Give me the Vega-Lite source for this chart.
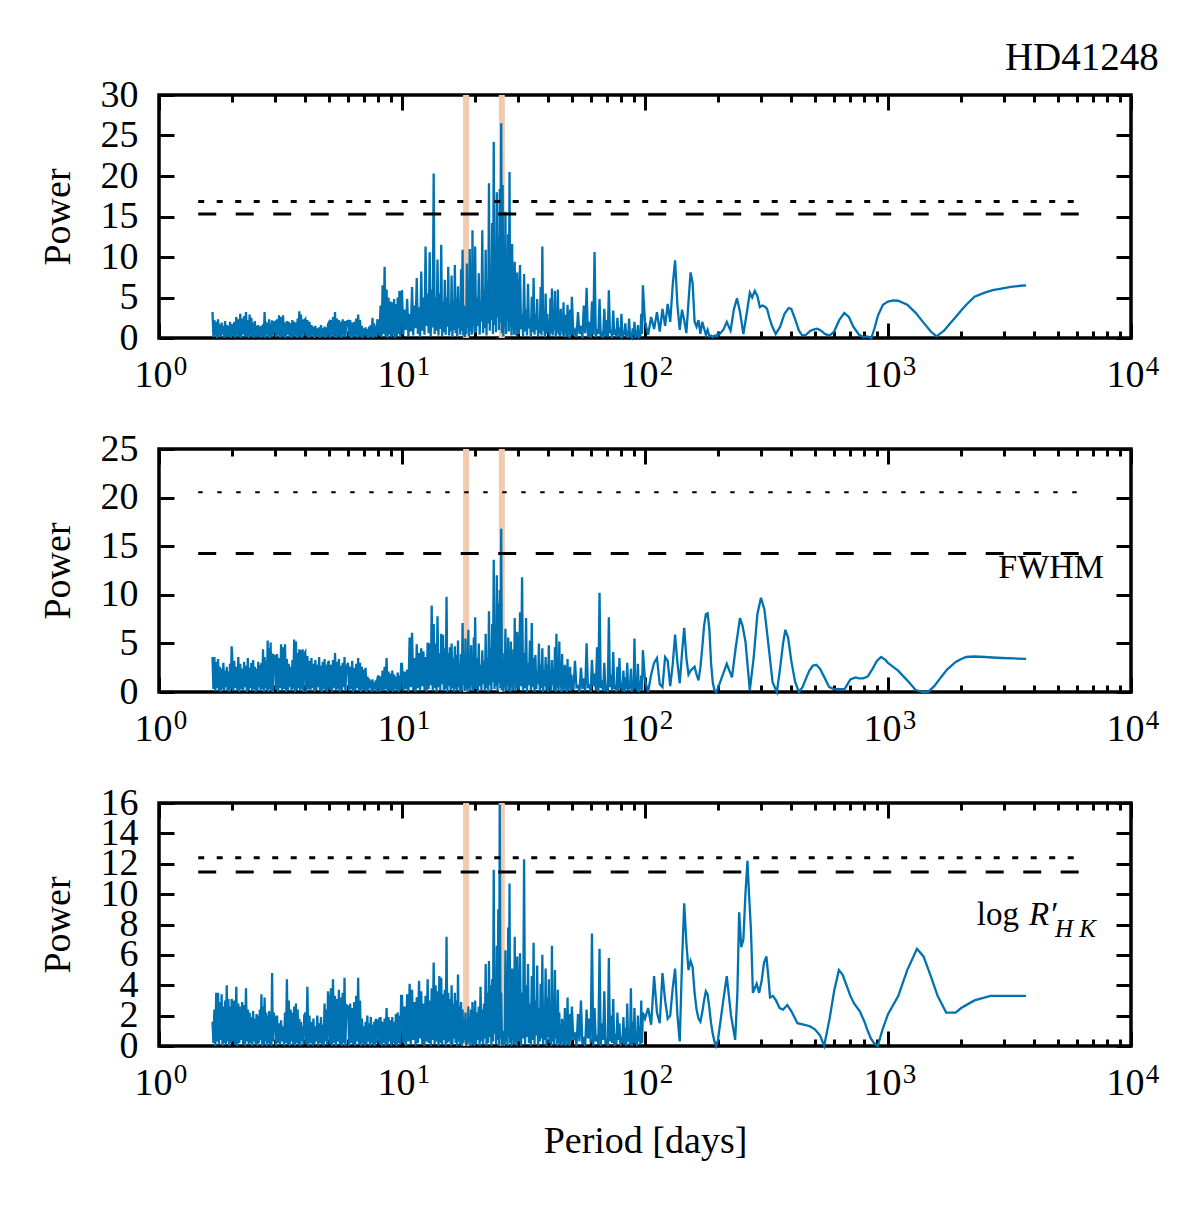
{
"$schema":"https://vega.github.io/schema/vega-lite/v6.json",
"padding":{"left":37,"top":37,"right":5,"bottom":5},
"background":"white",
"config":{
"view":{"stroke":"black","strokeWidth":3.5},
"axis":{"domain":false,"grid":false,"tickColor":"black","tickWidth":3,"labelFont":"Liberation Serif","labelFontSize":38,"labelColor":"black","titleFont":"Liberation Serif","titleFontSize":38,"titleFontWeight":"normal","titleColor":"black","labelFlush":false,"labelOverlap":false,"labelBound":false},
"title":{"font":"Liberation Serif","fontSize":39,"fontWeight":"normal","color":"black"},
"text":{"font":"Liberation Serif","color":"black"}
},
"datasets":{
"bands":[{"p":18.35},{"p":25.75}],
"thr":[{"panel":1,"x1":1.45,"x2":6400,"dot":16.85,"dash":15.3},{"panel":2,"x1":1.45,"x2":6400,"dot":20.55,"dash":14.25},{"panel":3,"x1":1.45,"x2":6400,"dot":12.4,"dash":11.45}],
"lab2":[{"p":7745,"v":11.73,"t":"FWHM"}],
"lab3":[{"p":3460,"v":7.97}],
"pg":[
{"p":1.66,"a":3.2,"b":3.6,"c":1.6},{"p":1.69,"a":2.2,"b":3.6,"c":2.4},{"p":1.72,"a":2.0,"b":3.1,"c":3.5},{"p":1.75,"a":2.3,"b":3.4,"c":3.5},{"p":1.78,"a":1.7,"b":2.6,"c":2.9},{"p":1.81,"a":1.9,"b":2.4,"c":3.4},{"p":1.84,"a":1.5,"b":3.0,"c":2.6},{"p":1.87,"a":2.1,"b":2.2,"c":3.0},{"p":1.90,"a":1.6,"b":2.6,"c":4.0},{"p":1.93,"a":1.5,"b":2.1,"c":3.1},{"p":1.96,"a":2.0,"b":2.9,"c":2.6},{"p":1.99,"a":1.6,"b":4.7,"c":3.1},
{"p":1.675,"a":0.1,"b":0.3,"c":0.2},{"p":1.705,"a":0.3,"b":0.1,"c":0.0},{"p":1.735,"a":0.0,"b":0.4,"c":0.3},{"p":1.765,"a":0.2,"b":0.2,"c":0.1},{"p":1.795,"a":0.1,"b":0.0,"c":0.4},{"p":1.825,"a":0.4,"b":0.3,"c":0.0},{"p":1.855,"a":0.0,"b":0.1,"c":0.2},{"p":1.885,"a":0.2,"b":0.5,"c":0.1},{"p":1.915,"a":0.1,"b":0.2,"c":0.3},{"p":1.945,"a":0.3,"b":0.0,"c":0.0},{"p":1.975,"a":0.0,"b":0.3,"c":0.2},
{"p":2.00,"a":1.6,"b":3.8,"c":2.8},{"p":2.04,"a":2.0,"b":3.2,"c":3.0},{"p":2.08,"a":2.6,"b":2.6,"c":3.9},{"p":2.12,"a":2.3,"b":3.6,"c":2.8},{"p":2.16,"a":3.0,"b":2.9,"c":2.6},{"p":2.20,"a":2.4,"b":2.4,"c":2.9},{"p":2.24,"a":2.7,"b":3.1,"c":2.7},{"p":2.28,"a":3.2,"b":2.7,"c":3.8},{"p":2.32,"a":2.2,"b":3.5,"c":2.4},{"p":2.36,"a":2.9,"b":2.5,"c":2.2},{"p":2.40,"a":2.5,"b":3.0,"c":1.9},{"p":2.44,"a":1.9,"b":3.3,"c":2.3},{"p":2.48,"a":2.1,"b":2.6,"c":1.8},{"p":2.52,"a":1.5,"b":2.4,"c":2.1},{"p":2.56,"a":1.6,"b":3.1,"c":2.0},{"p":2.60,"a":1.4,"b":2.8,"c":2.4},{"p":2.64,"a":1.5,"b":3.0,"c":3.4},{"p":2.68,"a":1.7,"b":4.4,"c":2.6},{"p":2.72,"a":3.2,"b":3.6,"c":3.2},{"p":2.76,"a":2.0,"b":3.2,"c":2.2},{"p":2.80,"a":1.8,"b":5.3,"c":2.0},{"p":2.84,"a":2.3,"b":4.5,"c":2.3},{"p":2.88,"a":1.7,"b":5.1,"c":2.1},{"p":2.92,"a":2.2,"b":3.9,"c":4.8},{"p":2.96,"a":1.9,"b":3.8,"c":2.2},
{"p":2.02,"a":0.2,"b":0.1,"c":0.3},{"p":2.06,"a":0.0,"b":0.4,"c":0.1},{"p":2.10,"a":0.3,"b":0.2,"c":0.0},{"p":2.14,"a":0.1,"b":0.0,"c":0.2},{"p":2.18,"a":0.0,"b":0.3,"c":0.4},{"p":2.22,"a":0.4,"b":0.1,"c":0.1},{"p":2.26,"a":0.1,"b":0.5,"c":0.0},{"p":2.30,"a":0.2,"b":0.0,"c":0.3},{"p":2.34,"a":0.0,"b":0.2,"c":0.1},{"p":2.38,"a":0.3,"b":0.4,"c":0.2},{"p":2.42,"a":0.1,"b":0.1,"c":0.0},{"p":2.46,"a":0.0,"b":0.3,"c":0.3},{"p":2.50,"a":0.2,"b":0.0,"c":0.1},{"p":2.54,"a":0.1,"b":0.2,"c":0.0},{"p":2.58,"a":0.3,"b":0.5,"c":0.2},{"p":2.62,"a":0.0,"b":0.1,"c":0.4},{"p":2.66,"a":0.2,"b":0.3,"c":0.0},{"p":2.70,"a":0.1,"b":0.0,"c":0.1},{"p":2.74,"a":0.0,"b":0.4,"c":0.3},{"p":2.78,"a":0.4,"b":0.2,"c":0.0},{"p":2.82,"a":0.1,"b":0.0,"c":0.2},{"p":2.86,"a":0.0,"b":0.3,"c":0.1},{"p":2.90,"a":0.2,"b":0.1,"c":0.0},{"p":2.94,"a":0.3,"b":0.0,"c":0.3},
{"p":3.00,"a":2.0,"b":3.7,"c":1.8},{"p":3.06,"a":2.3,"b":3.9,"c":2.0},{"p":3.12,"a":2.8,"b":3.5,"c":1.5},{"p":3.18,"a":2.6,"b":4.9,"c":1.7},{"p":3.24,"a":2.8,"b":4.6,"c":1.3},{"p":3.30,"a":1.9,"b":4.9,"c":2.2},{"p":3.36,"a":2.1,"b":3.4,"c":4.4},{"p":3.42,"a":2.0,"b":2.9,"c":3.0},{"p":3.48,"a":1.8,"b":2.6,"c":2.4},{"p":3.54,"a":2.2,"b":3.3,"c":2.2},{"p":3.60,"a":2.0,"b":5.4,"c":2.6},{"p":3.66,"a":1.9,"b":5.2,"c":2.8},{"p":3.72,"a":2.4,"b":4.0,"c":2.4},{"p":3.78,"a":3.3,"b":4.4,"c":1.8},{"p":3.84,"a":2.9,"b":4.3,"c":1.6},{"p":3.90,"a":2.3,"b":4.4,"c":1.3},{"p":3.96,"a":2.1,"b":3.9,"c":2.0},
{"p":3.03,"a":0.1,"b":0.2,"c":0.0},{"p":3.09,"a":0.3,"b":0.0,"c":0.2},{"p":3.15,"a":0.0,"b":0.4,"c":0.1},{"p":3.21,"a":0.2,"b":0.1,"c":0.3},{"p":3.27,"a":0.1,"b":0.3,"c":0.0},{"p":3.33,"a":0.0,"b":0.0,"c":0.2},{"p":3.39,"a":0.4,"b":0.2,"c":0.1},{"p":3.45,"a":0.1,"b":0.5,"c":0.0},{"p":3.51,"a":0.0,"b":0.1,"c":0.3},{"p":3.57,"a":0.2,"b":0.3,"c":0.1},{"p":3.63,"a":0.3,"b":0.0,"c":0.0},{"p":3.69,"a":0.0,"b":0.2,"c":0.2},{"p":3.75,"a":0.1,"b":0.4,"c":0.1},{"p":3.81,"a":0.2,"b":0.1,"c":0.0},{"p":3.87,"a":0.0,"b":0.3,"c":0.3},{"p":3.93,"a":0.3,"b":0.0,"c":0.1},
{"p":4.00,"a":2.3,"b":4.1,"c":2.2},{"p":4.08,"a":2.2,"b":3.7,"c":3.9},{"p":4.16,"a":2.0,"b":3.2,"c":2.0},{"p":4.24,"a":1.6,"b":3.5,"c":1.6},{"p":4.32,"a":1.4,"b":2.9,"c":1.8},{"p":4.40,"a":1.5,"b":3.3,"c":1.3},{"p":4.48,"a":1.2,"b":2.8,"c":2.0},{"p":4.56,"a":1.3,"b":3.6,"c":1.5},{"p":4.64,"a":1.6,"b":2.7,"c":1.9},{"p":4.72,"a":1.2,"b":3.1,"c":1.4},{"p":4.80,"a":1.4,"b":3.4,"c":2.8},{"p":4.88,"a":1.3,"b":2.8,"c":2.4},{"p":4.96,"a":1.7,"b":3.0,"c":3.6},
{"p":4.04,"a":0.2,"b":0.0,"c":0.1},{"p":4.12,"a":0.0,"b":0.3,"c":0.0},{"p":4.20,"a":0.1,"b":0.1,"c":0.2},{"p":4.28,"a":0.3,"b":0.4,"c":0.0},{"p":4.36,"a":0.0,"b":0.0,"c":0.1},{"p":4.44,"a":0.2,"b":0.2,"c":0.3},{"p":4.52,"a":0.1,"b":0.5,"c":0.0},{"p":4.60,"a":0.0,"b":0.1,"c":0.2},{"p":4.68,"a":0.3,"b":0.0,"c":0.1},{"p":4.76,"a":0.1,"b":0.3,"c":0.0},{"p":4.84,"a":0.0,"b":0.2,"c":0.3},{"p":4.92,"a":0.2,"b":0.0,"c":0.1},
{"p":5.0,"a":1.9,"b":3.2,"c":3.0},{"p":5.1,"a":2.2,"b":2.8,"c":3.8},{"p":5.2,"a":2.6,"b":3.3,"c":4.4},{"p":5.3,"a":3.2,"b":4.0,"c":3.3},{"p":5.4,"a":2.4,"b":3.1,"c":3.1},{"p":5.5,"a":2.2,"b":3.4,"c":3.7},{"p":5.6,"a":2.0,"b":2.7,"c":3.2},{"p":5.7,"a":2.3,"b":3.0,"c":3.5},{"p":5.8,"a":2.1,"b":3.6,"c":4.5},{"p":5.9,"a":2.0,"b":2.5,"c":2.7},
{"p":5.05,"a":0.0,"b":0.2,"c":0.1},{"p":5.15,"a":0.3,"b":0.0,"c":0.0},{"p":5.25,"a":0.1,"b":0.4,"c":0.2},{"p":5.35,"a":0.0,"b":0.1,"c":0.0},{"p":5.45,"a":0.2,"b":0.3,"c":0.3},{"p":5.55,"a":0.1,"b":0.0,"c":0.1},{"p":5.65,"a":0.0,"b":0.2,"c":0.0},{"p":5.75,"a":0.3,"b":0.5,"c":0.2},{"p":5.85,"a":0.1,"b":0.1,"c":0.0},
{"p":6.00,"a":2.1,"b":3.0,"c":2.6},{"p":6.12,"a":2.2,"b":2.6,"c":2.8},{"p":6.24,"a":1.9,"b":3.2,"c":2.5},{"p":6.36,"a":2.0,"b":2.5,"c":2.9},{"p":6.48,"a":2.4,"b":2.9,"c":3.3},{"p":6.60,"a":2.9,"b":3.5,"c":4.5},{"p":6.72,"a":2.2,"b":3.0,"c":3.0},{"p":6.84,"a":1.5,"b":2.6,"c":1.8},{"p":6.96,"a":1.2,"b":2.3,"c":1.3},{"p":7.08,"a":1.3,"b":2.5,"c":1.6},{"p":7.20,"a":1.1,"b":1.6,"c":2.0},{"p":7.32,"a":1.4,"b":1.4,"c":1.5},{"p":7.44,"a":1.6,"b":1.2,"c":1.9},{"p":7.56,"a":2.5,"b":1.3,"c":1.4},{"p":7.68,"a":1.8,"b":1.0,"c":1.6},{"p":7.80,"a":1.5,"b":1.2,"c":1.8},{"p":7.92,"a":2.3,"b":1.4,"c":1.6},
{"p":6.06,"a":0.2,"b":0.1,"c":0.0},{"p":6.18,"a":0.0,"b":0.3,"c":0.2},{"p":6.30,"a":0.1,"b":0.0,"c":0.1},{"p":6.42,"a":0.3,"b":0.2,"c":0.0},{"p":6.54,"a":0.0,"b":0.4,"c":0.3},{"p":6.66,"a":0.2,"b":0.1,"c":0.1},{"p":6.78,"a":0.1,"b":0.0,"c":0.0},{"p":6.90,"a":0.0,"b":0.3,"c":0.2},{"p":7.02,"a":0.3,"b":0.1,"c":0.0},{"p":7.14,"a":0.1,"b":0.0,"c":0.1},{"p":7.26,"a":0.0,"b":0.2,"c":0.3},{"p":7.38,"a":0.2,"b":0.4,"c":0.0},{"p":7.50,"a":0.1,"b":0.0,"c":0.2},{"p":7.62,"a":0.0,"b":0.1,"c":0.1},{"p":7.74,"a":0.3,"b":0.3,"c":0.0},{"p":7.86,"a":0.1,"b":0.0,"c":0.2},
{"p":8.00,"a":2.0,"b":1.7,"c":1.7},{"p":8.16,"a":4.0,"b":1.6,"c":1.9},{"p":8.32,"a":6.5,"b":2.2,"c":1.6},{"p":8.48,"a":8.8,"b":2.6,"c":1.8},{"p":8.64,"a":6.0,"b":3.5,"c":2.5},{"p":8.80,"a":5.0,"b":2.1,"c":1.9},{"p":8.96,"a":4.5,"b":1.9,"c":1.7},{"p":9.12,"a":4.4,"b":2.2,"c":1.9},{"p":9.28,"a":4.8,"b":1.8,"c":1.6},{"p":9.44,"a":4.2,"b":1.6,"c":2.1},{"p":9.60,"a":5.0,"b":2.0,"c":2.2},{"p":9.76,"a":5.8,"b":1.7,"c":2.0},{"p":9.92,"a":4.5,"b":2.9,"c":3.3},
{"p":8.08,"a":0.3,"b":0.0,"c":0.1},{"p":8.24,"a":0.1,"b":0.2,"c":0.0},{"p":8.40,"a":0.5,"b":0.1,"c":0.2},{"p":8.56,"a":0.2,"b":0.3,"c":0.0},{"p":8.72,"a":0.0,"b":0.0,"c":0.1},{"p":8.88,"a":0.4,"b":0.2,"c":0.3},{"p":9.04,"a":0.1,"b":0.1,"c":0.0},{"p":9.20,"a":0.3,"b":0.0,"c":0.2},{"p":9.36,"a":0.0,"b":0.3,"c":0.1},{"p":9.52,"a":0.2,"b":0.1,"c":0.0},{"p":9.68,"a":0.5,"b":0.0,"c":0.2},{"p":9.84,"a":0.1,"b":0.2,"c":0.1},
{"p":10.00,"a":5.9,"b":2.9,"c":3.3},{"p":10.25,"a":3.5,"b":2.1,"c":2.6},{"p":10.50,"a":4.8,"b":2.3,"c":3.4},{"p":10.75,"a":3.0,"b":5.6,"c":4.1},{"p":11.00,"a":6.3,"b":6.1,"c":3.7},{"p":11.25,"a":4.0,"b":3.5,"c":2.9},{"p":11.50,"a":7.4,"b":4.9,"c":3.2},{"p":11.75,"a":3.8,"b":4.0,"c":4.3},{"p":12.00,"a":8.2,"b":4.5,"c":3.6},{"p":12.25,"a":5.0,"b":4.2,"c":2.8},{"p":12.50,"a":11.3,"b":3.6,"c":3.3},{"p":12.75,"a":5.5,"b":5.1,"c":4.4},{"p":13.00,"a":10.6,"b":5.0,"c":3.0},{"p":13.25,"a":6.0,"b":8.9,"c":3.8},{"p":13.50,"a":20.3,"b":7.0,"c":5.5},{"p":13.75,"a":5.0,"b":5.0,"c":4.0},{"p":14.00,"a":9.7,"b":7.8,"c":3.6},{"p":14.25,"a":5.5,"b":4.0,"c":4.6},{"p":14.50,"a":11.5,"b":6.0,"c":4.5},{"p":14.75,"a":4.5,"b":5.9,"c":3.4},{"p":15.00,"a":7.2,"b":4.5,"c":3.7},{"p":15.25,"a":5.0,"b":9.8,"c":7.2},{"p":15.50,"a":8.8,"b":4.0,"c":3.5},{"p":15.75,"a":4.0,"b":4.6,"c":3.1},{"p":16.00,"a":7.7,"b":5.0,"c":4.0},{"p":16.25,"a":4.5,"b":3.5,"c":2.8},{"p":16.50,"a":9.0,"b":4.7,"c":3.5},{"p":16.75,"a":5.0,"b":3.8,"c":3.0},{"p":17.00,"a":6.4,"b":5.3,"c":4.7},{"p":17.25,"a":3.5,"b":3.0,"c":2.6},{"p":17.50,"a":8.5,"b":3.9,"c":2.9},{"p":17.75,"a":10.9,"b":7.1,"c":2.4},{"p":18.00,"a":4.0,"b":3.2,"c":1.8},{"p":18.25,"a":2.0,"b":5.5,"c":2.2},{"p":18.50,"a":9.2,"b":3.0,"c":1.5},{"p":18.75,"a":3.8,"b":6.4,"c":2.6},{"p":19.00,"a":11.0,"b":3.6,"c":1.9},{"p":19.25,"a":5.0,"b":4.8,"c":2.4},{"p":19.50,"a":13.3,"b":3.3,"c":2.9},{"p":19.75,"a":6.0,"b":5.6,"c":2.2},
{"p":10.125,"a":0.4,"b":0.1,"c":0.2},{"p":10.375,"a":1.0,"b":0.3,"c":0.0},{"p":10.625,"a":0.2,"b":0.0,"c":0.3},{"p":10.875,"a":0.8,"b":0.5,"c":0.1},{"p":11.125,"a":0.3,"b":0.2,"c":0.4},{"p":11.375,"a":1.2,"b":0.0,"c":0.0},{"p":11.625,"a":0.5,"b":0.4,"c":0.2},{"p":11.875,"a":0.1,"b":0.1,"c":0.5},{"p":12.125,"a":0.9,"b":0.6,"c":0.1},{"p":12.375,"a":0.4,"b":0.2,"c":0.0},{"p":12.625,"a":1.5,"b":0.0,"c":0.3},{"p":12.875,"a":0.6,"b":0.3,"c":0.2},{"p":13.125,"a":0.2,"b":0.7,"c":0.0},{"p":13.375,"a":1.3,"b":0.1,"c":0.4},{"p":13.625,"a":0.5,"b":0.4,"c":0.1},{"p":13.875,"a":0.9,"b":0.0,"c":0.3},{"p":14.125,"a":0.3,"b":0.5,"c":0.0},{"p":14.375,"a":1.1,"b":0.2,"c":0.2},{"p":14.625,"a":0.2,"b":0.8,"c":0.1},{"p":14.875,"a":0.7,"b":0.1,"c":0.4},{"p":15.125,"a":0.4,"b":0.3,"c":0.0},{"p":15.375,"a":1.4,"b":0.0,"c":0.2},{"p":15.625,"a":0.3,"b":0.6,"c":0.3},{"p":15.875,"a":0.8,"b":0.2,"c":0.0},{"p":16.125,"a":0.1,"b":0.4,"c":0.1},{"p":16.375,"a":1.0,"b":0.0,"c":0.5},{"p":16.625,"a":0.6,"b":0.3,"c":0.2},{"p":16.875,"a":0.2,"b":0.1,"c":0.0},{"p":17.125,"a":1.2,"b":0.5,"c":0.3},{"p":17.375,"a":0.4,"b":0.0,"c":0.1},{"p":17.625,"a":0.9,"b":0.2,"c":0.0},{"p":17.875,"a":0.3,"b":0.7,"c":0.2},{"p":18.125,"a":0.1,"b":0.1,"c":0.4},{"p":18.375,"a":0.5,"b":0.3,"c":0.0},{"p":18.625,"a":1.3,"b":0.0,"c":0.1},{"p":18.875,"a":0.2,"b":0.4,"c":0.3},{"p":19.125,"a":0.8,"b":0.2,"c":0.0},{"p":19.375,"a":0.4,"b":0.6,"c":0.2},{"p":19.625,"a":1.5,"b":0.1,"c":0.1},{"p":19.875,"a":0.6,"b":0.3,"c":0.0},
{"p":20.00,"a":11.3,"b":7.7,"c":3.0},{"p":20.35,"a":5.0,"b":3.5,"c":2.2},{"p":20.70,"a":8.0,"b":5.0,"c":2.6},{"p":21.05,"a":4.5,"b":2.8,"c":3.9},{"p":21.40,"a":13.3,"b":4.3,"c":2.4},{"p":21.75,"a":6.0,"b":3.2,"c":2.8},{"p":22.10,"a":10.9,"b":6.0,"c":5.4},{"p":22.45,"a":7.0,"b":3.5,"c":3.5},{"p":22.80,"a":19.1,"b":8.3,"c":5.6},{"p":23.15,"a":8.0,"b":4.5,"c":4.0},{"p":23.50,"a":14.2,"b":7.0,"c":4.4},{"p":23.85,"a":24.2,"b":13.6,"c":11.6},{"p":24.20,"a":9.5,"b":6.5,"c":4.5},{"p":24.55,"a":18.0,"b":12.0,"c":6.6},{"p":24.90,"a":12.4,"b":9.1,"c":9.0},{"p":25.25,"a":18.4,"b":10.5,"c":15.9},{"p":25.60,"a":26.5,"b":16.8,"c":3.5},{"p":25.95,"a":18.9,"b":4.0,"c":1.0},{"p":26.30,"a":3.2,"b":2.5,"c":0.5},{"p":26.65,"a":15.6,"b":6.5,"c":6.3},{"p":27.00,"a":7.3,"b":2.8,"c":3.5},{"p":27.35,"a":12.8,"b":5.6,"c":7.8},{"p":27.70,"a":20.5,"b":3.5,"c":10.7},{"p":28.05,"a":5.2,"b":5.2,"c":4.5},{"p":28.40,"a":11.6,"b":3.0,"c":5.1},{"p":28.75,"a":4.5,"b":4.4,"c":3.0},{"p":29.10,"a":9.4,"b":7.6,"c":7.2},{"p":29.45,"a":4.0,"b":3.2,"c":3.5},{"p":29.80,"a":8.1,"b":6.2,"c":5.9},
{"p":20.175,"a":0.8,"b":0.3,"c":0.1},{"p":20.525,"a":1.5,"b":0.0,"c":0.4},{"p":20.875,"a":0.4,"b":0.6,"c":0.0},{"p":21.225,"a":2.0,"b":0.2,"c":0.3},{"p":21.575,"a":0.6,"b":0.8,"c":0.1},{"p":21.925,"a":1.2,"b":0.1,"c":0.5},{"p":22.275,"a":0.3,"b":0.4,"c":0.0},{"p":22.625,"a":1.8,"b":0.0,"c":0.2},{"p":22.975,"a":0.9,"b":0.7,"c":0.6},{"p":23.325,"a":2.2,"b":0.2,"c":0.0},{"p":23.675,"a":0.5,"b":1.0,"c":0.3},{"p":24.025,"a":1.6,"b":0.3,"c":0.8},{"p":24.375,"a":0.7,"b":0.6,"c":0.1},{"p":24.725,"a":2.5,"b":0.1,"c":0.4},{"p":25.075,"a":1.0,"b":0.9,"c":0.0},{"p":25.425,"a":1.9,"b":0.4,"c":0.5},{"p":25.775,"a":0.6,"b":0.2,"c":0.0},{"p":26.125,"a":0.2,"b":0.0,"c":0.0},{"p":26.475,"a":1.4,"b":0.5,"c":0.1},{"p":26.825,"a":0.5,"b":0.1,"c":0.3},{"p":27.175,"a":2.1,"b":0.7,"c":0.0},{"p":27.525,"a":0.8,"b":0.2,"c":0.6},{"p":27.875,"a":1.5,"b":0.0,"c":0.2},{"p":28.225,"a":0.3,"b":0.5,"c":0.0},{"p":28.575,"a":1.1,"b":0.2,"c":0.4},{"p":28.925,"a":0.4,"b":0.8,"c":0.1},{"p":29.275,"a":1.3,"b":0.1,"c":0.3},{"p":29.625,"a":0.2,"b":0.4,"c":0.0},
{"p":30.0,"a":4.0,"b":3.0,"c":3.0},{"p":30.6,"a":9.0,"b":8.2,"c":6.1},{"p":31.2,"a":3.0,"b":11.8,"c":3.5},{"p":31.8,"a":7.9,"b":4.0,"c":12.3},{"p":32.4,"a":3.5,"b":7.6,"c":4.0},{"p":33.0,"a":6.7,"b":3.0,"c":5.4},{"p":33.6,"a":2.5,"b":5.3,"c":2.8},{"p":34.2,"a":5.1,"b":7.1,"c":4.6},{"p":34.8,"a":7.4,"b":3.5,"c":6.8},{"p":35.4,"a":3.0,"b":3.8,"c":3.0},{"p":36.0,"a":4.8,"b":2.2,"c":5.3},{"p":36.6,"a":2.2,"b":5.0,"c":2.5},{"p":37.2,"a":6.3,"b":2.8,"c":4.1},{"p":37.8,"a":11.3,"b":4.5,"c":6.0},{"p":38.4,"a":2.5,"b":2.3,"c":2.8},{"p":39.0,"a":5.5,"b":3.6,"c":5.1},{"p":39.6,"a":3.0,"b":2.8,"c":3.2},{"p":40.2,"a":2.0,"b":4.8,"c":4.4},{"p":40.8,"a":4.9,"b":2.0,"c":2.5},{"p":41.4,"a":6.1,"b":3.3,"c":6.6},{"p":42.0,"a":2.5,"b":2.5,"c":3.1},{"p":42.6,"a":5.8,"b":4.6,"c":5.0},{"p":43.2,"a":2.3,"b":6.0,"c":2.4},{"p":43.8,"a":6.0,"b":2.4,"c":3.7},{"p":44.4,"a":2.0,"b":5.2,"c":2.2},{"p":45.0,"a":3.6,"b":2.0,"c":1.0},{"p":45.6,"a":2.2,"b":3.9,"c":1.8},{"p":46.2,"a":4.4,"b":2.6,"c":0.8},{"p":46.8,"a":1.8,"b":2.8,"c":2.5},{"p":47.4,"a":2.9,"b":1.8,"c":1.2},{"p":48.0,"a":4.1,"b":3.4,"c":3.2},{"p":48.6,"a":1.8,"b":2.0,"c":1.5},{"p":49.2,"a":3.5,"b":2.6,"c":2.1},{"p":49.8,"a":1.6,"b":1.8,"c":1.5},
{"p":30.3,"a":0.5,"b":0.2,"c":0.3},{"p":30.9,"a":1.1,"b":0.6,"c":0.0},{"p":31.5,"a":0.2,"b":0.1,"c":0.5},{"p":32.1,"a":0.8,"b":0.4,"c":0.1},{"p":32.7,"a":0.3,"b":0.0,"c":0.6},{"p":33.3,"a":1.2,"b":0.7,"c":0.2},{"p":33.9,"a":0.1,"b":0.2,"c":0.0},{"p":34.5,"a":0.7,"b":0.5,"c":0.4},{"p":35.1,"a":0.4,"b":0.0,"c":0.1},{"p":35.7,"a":1.0,"b":0.3,"c":0.7},{"p":36.3,"a":0.2,"b":0.8,"c":0.0},{"p":36.9,"a":0.6,"b":0.1,"c":0.3},{"p":37.5,"a":0.3,"b":0.4,"c":0.5},{"p":38.1,"a":0.9,"b":0.0,"c":0.1},{"p":38.7,"a":0.1,"b":0.6,"c":0.4},{"p":39.3,"a":0.5,"b":0.2,"c":0.0},{"p":39.9,"a":0.8,"b":0.0,"c":0.6},{"p":40.5,"a":0.2,"b":0.5,"c":0.2},{"p":41.1,"a":0.6,"b":0.1,"c":0.0},{"p":41.7,"a":0.3,"b":0.7,"c":0.3},{"p":42.3,"a":1.0,"b":0.2,"c":0.1},{"p":42.9,"a":0.1,"b":0.0,"c":0.5},{"p":43.5,"a":0.7,"b":0.4,"c":0.0},{"p":44.1,"a":0.4,"b":0.1,"c":0.2},{"p":44.7,"a":0.2,"b":0.6,"c":0.1},{"p":45.3,"a":0.9,"b":0.0,"c":0.0},{"p":45.9,"a":0.3,"b":0.3,"c":0.3},{"p":46.5,"a":0.1,"b":0.1,"c":0.1},{"p":47.1,"a":0.6,"b":0.5,"c":0.0},{"p":47.7,"a":0.2,"b":0.0,"c":0.4},{"p":48.3,"a":0.5,"b":0.2,"c":0.1},{"p":48.9,"a":0.0,"b":0.6,"c":0.0},{"p":49.5,"a":0.4,"b":0.1,"c":0.3},
{"p":50.0,"a":5.1,"b":1.0,"c":2.6},{"p":51.5,"a":0.9,"b":3.2,"c":0.9},{"p":53.0,"a":3.2,"b":0.6,"c":2.1},{"p":54.5,"a":1.5,"b":2.5,"c":3.0},{"p":56.0,"a":4.0,"b":1.4,"c":0.6},{"p":57.5,"a":6.2,"b":5.0,"c":2.4},{"p":59.0,"a":2.0,"b":0.8,"c":1.8},{"p":60.5,"a":4.5,"b":3.3,"c":7.4},{"p":62.0,"a":10.6,"b":1.9,"c":2.5},{"p":63.5,"a":1.1,"b":4.6,"c":0.7},{"p":65.0,"a":4.8,"b":10.2,"c":6.4},{"p":66.5,"a":0.5,"b":1.2,"c":1.5},{"p":68.0,"a":3.6,"b":3.0,"c":3.6},{"p":69.5,"a":2.2,"b":0.5,"c":0.5},{"p":71.0,"a":5.9,"b":7.7,"c":5.8},{"p":72.5,"a":1.0,"b":1.8,"c":2.0},{"p":74.0,"a":3.4,"b":4.1,"c":3.1},{"p":75.5,"a":0.7,"b":0.7,"c":0.8},{"p":77.0,"a":2.5,"b":2.6,"c":2.2},{"p":78.5,"a":1.3,"b":3.5,"c":1.5},{"p":80.0,"a":3.0,"b":0.9,"c":0.6},{"p":81.5,"a":0.4,"b":2.2,"c":1.9},{"p":83.0,"a":1.8,"b":1.5,"c":1.2},{"p":84.5,"a":0.8,"b":3.0,"c":2.8},{"p":86.0,"a":2.4,"b":0.4,"c":0.9},{"p":87.5,"a":0.3,"b":2.4,"c":3.8},{"p":89.0,"a":1.2,"b":1.1,"c":1.6},{"p":90.5,"a":2.0,"b":5.5,"c":2.5},{"p":92.0,"a":0.5,"b":0.8,"c":0.7},{"p":93.5,"a":1.6,"b":2.9,"c":2.0},{"p":95.0,"a":0.2,"b":0.5,"c":1.3},{"p":96.5,"a":3.0,"b":1.7,"c":3.0},{"p":98.0,"a":6.5,"b":4.3,"c":2.2},
{"p":50.75,"a":0.3,"b":0.2,"c":0.4},{"p":52.25,"a":0.1,"b":0.5,"c":0.0},{"p":53.75,"a":0.5,"b":0.0,"c":0.3},{"p":55.25,"a":0.0,"b":0.3,"c":0.1},{"p":56.75,"a":0.6,"b":0.1,"c":0.0},{"p":58.25,"a":0.2,"b":0.4,"c":0.5},{"p":59.75,"a":0.0,"b":0.0,"c":0.2},{"p":61.25,"a":0.4,"b":0.6,"c":0.0},{"p":62.75,"a":0.1,"b":0.2,"c":0.3},{"p":64.25,"a":0.5,"b":0.0,"c":0.1},{"p":65.75,"a":0.2,"b":0.4,"c":0.0},{"p":67.25,"a":0.0,"b":0.1,"c":0.4},{"p":68.75,"a":0.3,"b":0.3,"c":0.1},{"p":70.25,"a":0.1,"b":0.0,"c":0.0},{"p":71.75,"a":0.6,"b":0.5,"c":0.3},{"p":73.25,"a":0.0,"b":0.1,"c":0.2},{"p":74.75,"a":0.4,"b":0.3,"c":0.0},{"p":76.25,"a":0.1,"b":0.0,"c":0.1},{"p":77.75,"a":0.3,"b":0.2,"c":0.4},{"p":79.25,"a":0.0,"b":0.4,"c":0.0},{"p":80.75,"a":0.2,"b":0.1,"c":0.2},{"p":82.25,"a":0.5,"b":0.0,"c":0.1},{"p":83.75,"a":0.1,"b":0.3,"c":0.0},{"p":85.25,"a":0.0,"b":0.1,"c":0.3},{"p":86.75,"a":0.3,"b":0.5,"c":0.1},{"p":88.25,"a":0.1,"b":0.0,"c":0.0},{"p":89.75,"a":0.4,"b":0.2,"c":0.2},{"p":91.25,"a":0.0,"b":0.4,"c":0.1},{"p":92.75,"a":0.2,"b":0.1,"c":0.0},{"p":94.25,"a":0.1,"b":0.0,"c":0.3},{"p":95.75,"a":0.3,"b":0.3,"c":0.1},{"p":97.25,"a":0.5,"b":0.1,"c":0.2},
{"p":100,"a":2.0,"b":1.2,"c":1.8},{"p":103,"a":0.4,"b":0.0,"c":2.5},{"p":106,"a":2.6,"b":1.8,"c":1.4},{"p":109,"a":1.1,"b":3.0,"c":4.6},{"p":112,"a":3.2,"b":3.5,"c":2.2},{"p":115,"a":0.8,"b":0.8,"c":1.5},{"p":118,"a":3.6,"b":0.5,"c":4.8},{"p":121,"a":1.5,"b":3.6,"c":3.0},{"p":124,"a":4.2,"b":3.2,"c":1.8},{"p":127,"a":2.0,"b":0.6,"c":2.0},{"p":130,"a":6.5,"b":2.8,"c":3.8},{"p":133,"a":9.6,"b":5.9,"c":5.1},{"p":136,"a":4.0,"b":3.0,"c":2.0},{"p":139,"a":1.0,"b":0.9,"c":0.3},{"p":142,"a":3.5,"b":4.0,"c":5.5},{"p":145,"a":2.2,"b":6.6,"c":9.4},{"p":148,"a":0.6,"b":3.5,"c":6.8},{"p":151,"a":4.5,"b":1.8,"c":5.0},{"p":154,"a":8.1,"b":2.2,"c":5.6},{"p":157,"a":6.8,"b":2.4,"c":5.2},{"p":160,"a":2.0,"b":2.6,"c":3.5},{"p":163,"a":1.4,"b":1.8,"c":2.4},{"p":166,"a":2.2,"b":1.2,"c":1.8},{"p":169,"a":0.5,"b":2.5,"c":1.6},{"p":172,"a":2.0,"b":4.5,"c":2.2},{"p":175,"a":1.2,"b":6.8,"c":3.0},{"p":178,"a":0.4,"b":8.0,"c":3.6},{"p":181,"a":1.0,"b":8.1,"c":3.4},{"p":184,"a":0.2,"b":6.5,"c":2.5},{"p":187,"a":0.3,"b":3.0,"c":1.5},{"p":190,"a":0.1,"b":1.0,"c":0.8},{"p":193,"a":0.3,"b":0.2,"c":0.3},{"p":196,"a":0.2,"b":0.0,"c":0.0},{"p":199,"a":0.5,"b":0.3,"c":0.3},
{"p":200,"a":0.3},{"p":210,"a":1.0},{"p":217,"a":2.0},{"p":225,"a":0.9},{"p":232,"a":3.5},{"p":239,"a":4.9},{"p":246,"a":3.2},{"p":254,"a":0.5},{"p":262,"a":3.0},{"p":270,"a":5.6},{"p":276,"a":5.0},{"p":283,"a":5.8},{"p":290,"a":5.2},{"p":297,"a":3.8},{"p":304,"a":4.0},{"p":311,"a":3.9},{"p":318,"a":3.6},{"p":325,"a":2.5},{"p":333,"a":1.5},{"p":345,"a":0.5},{"p":360,"a":1.4},{"p":375,"a":3.0},{"p":390,"a":3.7},{"p":400,"a":3.6},{"p":415,"a":2.3},{"p":430,"a":0.9},{"p":444,"a":0.3},{"p":460,"a":0.4},{"p":480,"a":0.9},{"p":500,"a":1.1},{"p":512,"a":1.15},{"p":530,"a":0.9},{"p":550,"a":0.5},{"p":574,"a":0.3},{"p":600,"a":0.8},{"p":630,"a":2.2},{"p":661,"a":3.1},{"p":690,"a":2.6},{"p":720,"a":1.4},{"p":760,"a":0.4},{"p":794,"a":0.1},{"p":820,"a":0.2},{"p":854,"a":0.0},{"p":880,"a":1.2},{"p":910,"a":2.8},{"p":953,"a":4.1},{"p":1000,"a":4.5},{"p":1050,"a":4.65},{"p":1100,"a":4.6},{"p":1200,"a":4.1},{"p":1300,"a":3.1},{"p":1400,"a":1.9},{"p":1500,"a":0.8},{"p":1583,"a":0.2},{"p":1700,"a":0.9},{"p":1800,"a":1.8},{"p":1900,"a":2.6},{"p":2000,"a":3.4},{"p":2100,"a":4.1},{"p":2271,"a":5.1},{"p":2500,"a":5.6},{"p":2700,"a":5.9},{"p":2930,"a":6.1},{"p":3200,"a":6.3},{"p":3500,"a":6.45},{"p":3700,"a":6.5},
{"p":205,"b":1.2},{"p":217,"b":2.9},{"p":228,"b":1.5},{"p":236,"b":4.5},{"p":246,"b":7.6},{"p":252,"b":6.8},{"p":259,"b":5.2},{"p":270,"b":0.2},{"p":280,"b":3.5},{"p":290,"b":8.0},{"p":300,"b":9.7},{"p":310,"b":8.5},{"p":320,"b":5.5},{"p":335,"b":1.0},{"p":349,"b":0.0},{"p":360,"b":2.5},{"p":370,"b":5.0},{"p":378,"b":6.4},{"p":388,"b":5.6},{"p":400,"b":3.2},{"p":415,"b":1.0},{"p":430,"b":0.0},{"p":445,"b":0.5},{"p":460,"b":1.4},{"p":475,"b":2.2},{"p":490,"b":2.7},{"p":507,"b":2.8},{"p":525,"b":2.4},{"p":550,"b":1.4},{"p":573,"b":0.5},{"p":600,"b":0.3},{"p":630,"b":0.3},{"p":663,"b":0.3},{"p":700,"b":1.3},{"p":735,"b":1.5},{"p":760,"b":1.4},{"p":790,"b":1.4},{"p":826,"b":1.6},{"p":860,"b":2.3},{"p":900,"b":3.2},{"p":937,"b":3.6},{"p":975,"b":3.3},{"p":1000,"b":3.0},{"p":1100,"b":2.2},{"p":1200,"b":1.2},{"p":1300,"b":0.2},{"p":1400,"b":0.0},{"p":1460,"b":0.0},{"p":1550,"b":0.6},{"p":1650,"b":1.5},{"p":1750,"b":2.3},{"p":1900,"b":3.1},{"p":2000,"b":3.4},{"p":2100,"b":3.6},{"p":2270,"b":3.65},{"p":2500,"b":3.6},{"p":2700,"b":3.55},{"p":2930,"b":3.5},{"p":3300,"b":3.45},{"p":3700,"b":3.4},
{"p":200,"c":0.5},{"p":210,"c":3.0},{"p":217,"c":4.6},{"p":226,"c":2.0},{"p":235,"c":0.4},{"p":240,"c":3.5},{"p":244,"c":8.8},{"p":249,"c":6.5},{"p":254,"c":7.0},{"p":259,"c":10.0},{"p":264,"c":12.2},{"p":268,"c":10.0},{"p":273,"c":7.6},{"p":278,"c":3.5},{"p":283,"c":3.8},{"p":288,"c":4.1},{"p":295,"c":3.5},{"p":302,"c":4.3},{"p":309,"c":5.5},{"p":316,"c":5.9},{"p":322,"c":4.5},{"p":327,"c":3.2},{"p":336,"c":3.3},{"p":346,"c":3.0},{"p":358,"c":2.5},{"p":370,"c":2.4},{"p":385,"c":2.7},{"p":400,"c":2.3},{"p":424,"c":1.5},{"p":450,"c":1.4},{"p":477,"c":1.3},{"p":500,"c":1.1},{"p":525,"c":0.7},{"p":546,"c":0.0},{"p":575,"c":1.8},{"p":600,"c":3.6},{"p":628,"c":5.0},{"p":650,"c":4.7},{"p":675,"c":4.0},{"p":700,"c":3.3},{"p":725,"c":2.8},{"p":765,"c":2.3},{"p":800,"c":1.6},{"p":825,"c":1.0},{"p":850,"c":0.5},{"p":875,"c":0.2},{"p":907,"c":0.0},{"p":950,"c":1.1},{"p":1000,"c":2.1},{"p":1103,"c":3.3},{"p":1200,"c":5.0},{"p":1316,"c":6.4},{"p":1400,"c":5.9},{"p":1500,"c":4.6},{"p":1600,"c":3.3},{"p":1735,"c":2.2},{"p":1898,"c":2.2},{"p":2000,"c":2.5},{"p":2270,"c":3.0},{"p":2640,"c":3.3},{"p":3000,"c":3.3},{"p":3700,"c":3.3}
]
},
"spacing":111,
"bounds":"flush",
"vconcat":[
{
"width":972,"height":243,
"title":{"text":"HD41248","anchor":"end","baseline":"alphabetic","offset":-33},
"layer":[
{"data":{"name":"bands"},"mark":{"type":"rule","color":"#f1cbb0","strokeWidth":6},
"encoding":{"x":{"field":"p","type":"quantitative","scale":{"type":"log","domain":[1,10000],"nice":false},"axis":{"orient":"top","values":[1,2,3,4,5,6,7,8,9,10,20,30,40,50,60,70,80,90,100,200,300,400,500,600,700,800,900,1000,2000,3000,4000,5000,6000,7000,8000,9000,10000],"labels":false,"title":null,"tickSize":{"condition":{"test":"indexof([1,10,100,1000,10000], datum.value) >= 0","value":-15},"value":-7}}}}},
{"data":{"name":"pg"},"transform":[{"filter":{"field":"a","valid":true}}],"mark":{"type":"line","color":"#0072b2","strokeWidth":2.3,"invalid":"filter"},
"encoding":{"x":{"field":"p","type":"quantitative","scale":{"type":"log","domain":[1,10000],"nice":false},"axis":{"orient":"bottom","values":[1,2,3,4,5,6,7,8,9,10,20,30,40,50,60,70,80,90,100,200,300,400,500,600,700,800,900,1000,2000,3000,4000,5000,6000,7000,8000,9000,10000],"labelExpr":"indexof([1,10,100,1000,10000], datum.value) >= 0 ? '10' : ''","labelBaseline":"alphabetic","labelPadding":63,"labelOffset":-6,"title":null,"tickSize":{"condition":{"test":"indexof([1,10,100,1000,10000], datum.value) >= 0","value":-15},"value":-7}}},
"y":{"field":"a","type":"quantitative","scale":{"domain":[0,30],"nice":false},"axis":{"orient":"left","values":[0,5,10,15,20,25,30],"tickSize":-15,"labelPadding":36,"title":"Power","titlePadding":23}}}},
{"data":{"name":"thr"},"transform":[{"filter":"datum.panel == 1"}],"mark":{"type":"rule","color":"black","strokeWidth":3,"strokeDash":[6,12.5]},
"encoding":{"x":{"field":"x1","type":"quantitative","scale":{"type":"log","domain":[1,10000],"nice":false},"axis":null},"x2":{"field":"x2"},"y":{"field":"dot","type":"quantitative","scale":{"domain":[0,30],"nice":false},"axis":{"orient":"right","values":[0,5,10,15,20,25,30],"labels":false,"tickSize":-15,"title":null}}}},
{"data":{"name":"thr"},"transform":[{"filter":"datum.panel == 1"}],"mark":{"type":"rule","color":"black","strokeWidth":3,"strokeDash":[18,19.5]},
"encoding":{"x":{"field":"x1","type":"quantitative","scale":{"type":"log","domain":[1,10000],"nice":false},"axis":{"orient":"bottom","values":[1,10,100,1000,10000],"labelExpr":"datum.value == 1 ? '0' : datum.value == 10 ? '1' : datum.value == 100 ? '2' : datum.value == 1000 ? '3' : '4'","ticks":false,"labelFontSize":27,"labelOffset":21,"labelPadding":36,"labelBaseline":"alphabetic","title":null}},"x2":{"field":"x2"},"y":{"field":"dash","type":"quantitative","scale":{"domain":[0,30],"nice":false},"axis":null}}}
],
"resolve":{"axis":{"x":"independent","y":"independent"}}
},
{
"width":972,"height":243,
"layer":[
{"data":{"name":"bands"},"mark":{"type":"rule","color":"#f1cbb0","strokeWidth":6},
"encoding":{"x":{"field":"p","type":"quantitative","scale":{"type":"log","domain":[1,10000],"nice":false},"axis":{"orient":"top","values":[1,2,3,4,5,6,7,8,9,10,20,30,40,50,60,70,80,90,100,200,300,400,500,600,700,800,900,1000,2000,3000,4000,5000,6000,7000,8000,9000,10000],"labels":false,"title":null,"tickSize":{"condition":{"test":"indexof([1,10,100,1000,10000], datum.value) >= 0","value":-15},"value":-7}}}}},
{"data":{"name":"pg"},"transform":[{"filter":{"field":"b","valid":true}}],"mark":{"type":"line","color":"#0072b2","strokeWidth":2.3,"invalid":"filter"},
"encoding":{"x":{"field":"p","type":"quantitative","scale":{"type":"log","domain":[1,10000],"nice":false},"axis":{"orient":"bottom","values":[1,2,3,4,5,6,7,8,9,10,20,30,40,50,60,70,80,90,100,200,300,400,500,600,700,800,900,1000,2000,3000,4000,5000,6000,7000,8000,9000,10000],"labelExpr":"indexof([1,10,100,1000,10000], datum.value) >= 0 ? '10' : ''","labelBaseline":"alphabetic","labelPadding":63,"labelOffset":-6,"title":null,"tickSize":{"condition":{"test":"indexof([1,10,100,1000,10000], datum.value) >= 0","value":-15},"value":-7}}},
"y":{"field":"b","type":"quantitative","scale":{"domain":[0,25],"nice":false},"axis":{"orient":"left","values":[0,5,10,15,20,25],"tickSize":-15,"labelPadding":36,"title":"Power","titlePadding":23}}}},
{"data":{"name":"thr"},"transform":[{"filter":"datum.panel == 2"}],"mark":{"type":"rule","color":"black","strokeWidth":2,"strokeDash":[4.5,14.5]},
"encoding":{"x":{"field":"x1","type":"quantitative","scale":{"type":"log","domain":[1,10000],"nice":false},"axis":null},"x2":{"field":"x2"},"y":{"field":"dot","type":"quantitative","scale":{"domain":[0,25],"nice":false},"axis":{"orient":"right","values":[0,5,10,15,20,25],"labels":false,"tickSize":-15,"title":null}}}},
{"data":{"name":"thr"},"transform":[{"filter":"datum.panel == 2"}],"mark":{"type":"rule","color":"black","strokeWidth":3,"strokeDash":[18,19.5]},
"encoding":{"x":{"field":"x1","type":"quantitative","scale":{"type":"log","domain":[1,10000],"nice":false},"axis":{"orient":"bottom","values":[1,10,100,1000,10000],"labelExpr":"datum.value == 1 ? '0' : datum.value == 10 ? '1' : datum.value == 100 ? '2' : datum.value == 1000 ? '3' : '4'","ticks":false,"labelFontSize":27,"labelOffset":21,"labelPadding":36,"labelBaseline":"alphabetic","title":null}},"x2":{"field":"x2"},"y":{"field":"dash","type":"quantitative","scale":{"domain":[0,25],"nice":false},"axis":null}}},
{"data":{"name":"lab2"},"mark":{"type":"text","align":"right","baseline":"alphabetic","fontSize":34},
"encoding":{"x":{"field":"p","type":"quantitative","scale":{"type":"log","domain":[1,10000],"nice":false},"axis":null},"y":{"field":"v","type":"quantitative","scale":{"domain":[0,25],"nice":false},"axis":null},"text":{"field":"t"}}}
],
"resolve":{"axis":{"x":"independent","y":"independent"}}
},
{
"width":972,"height":243,
"layer":[
{"data":{"name":"bands"},"mark":{"type":"rule","color":"#f1cbb0","strokeWidth":6},
"encoding":{"x":{"field":"p","type":"quantitative","scale":{"type":"log","domain":[1,10000],"nice":false},"axis":{"orient":"top","values":[1,2,3,4,5,6,7,8,9,10,20,30,40,50,60,70,80,90,100,200,300,400,500,600,700,800,900,1000,2000,3000,4000,5000,6000,7000,8000,9000,10000],"labels":false,"title":null,"tickSize":{"condition":{"test":"indexof([1,10,100,1000,10000], datum.value) >= 0","value":-15},"value":-7}}}}},
{"data":{"name":"pg"},"transform":[{"filter":{"field":"c","valid":true}}],"mark":{"type":"line","color":"#0072b2","strokeWidth":2.3,"invalid":"filter"},
"encoding":{"x":{"field":"p","type":"quantitative","scale":{"type":"log","domain":[1,10000],"nice":false},"axis":{"orient":"bottom","values":[1,2,3,4,5,6,7,8,9,10,20,30,40,50,60,70,80,90,100,200,300,400,500,600,700,800,900,1000,2000,3000,4000,5000,6000,7000,8000,9000,10000],"labelExpr":"indexof([1,10,100,1000,10000], datum.value) >= 0 ? '10' : ''","labelBaseline":"alphabetic","labelPadding":63,"labelOffset":-6,"title":"Period [days]","titlePadding":12,"tickSize":{"condition":{"test":"indexof([1,10,100,1000,10000], datum.value) >= 0","value":-15},"value":-7}}},
"y":{"field":"c","type":"quantitative","scale":{"domain":[0,16],"nice":false},"axis":{"orient":"left","values":[0,2,4,6,8,10,12,14,16],"tickSize":-15,"labelPadding":36,"title":"Power","titlePadding":23}}}},
{"data":{"name":"thr"},"transform":[{"filter":"datum.panel == 3"}],"mark":{"type":"rule","color":"black","strokeWidth":3,"strokeDash":[6,12.5]},
"encoding":{"x":{"field":"x1","type":"quantitative","scale":{"type":"log","domain":[1,10000],"nice":false},"axis":null},"x2":{"field":"x2"},"y":{"field":"dot","type":"quantitative","scale":{"domain":[0,16],"nice":false},"axis":{"orient":"right","values":[0,2,4,6,8,10,12,14,16],"labels":false,"tickSize":-15,"title":null}}}},
{"data":{"name":"thr"},"transform":[{"filter":"datum.panel == 3"}],"mark":{"type":"rule","color":"black","strokeWidth":3,"strokeDash":[18,19.5]},
"encoding":{"x":{"field":"x1","type":"quantitative","scale":{"type":"log","domain":[1,10000],"nice":false},"axis":{"orient":"bottom","values":[1,10,100,1000,10000],"labelExpr":"datum.value == 1 ? '0' : datum.value == 10 ? '1' : datum.value == 100 ? '2' : datum.value == 1000 ? '3' : '4'","ticks":false,"labelFontSize":27,"labelOffset":21,"labelPadding":36,"labelBaseline":"alphabetic","title":null}},"x2":{"field":"x2"},"y":{"field":"dash","type":"quantitative","scale":{"domain":[0,16],"nice":false},"axis":null}}},
{"data":{"name":"lab3"},"mark":{"type":"text","align":"right","baseline":"alphabetic","fontSize":33,"text":"log"},
"encoding":{"x":{"field":"p","type":"quantitative","scale":{"type":"log","domain":[1,10000],"nice":false},"axis":null},"y":{"field":"v","type":"quantitative","scale":{"domain":[0,16],"nice":false},"axis":null}}},
{"data":{"name":"lab3"},"mark":{"type":"text","align":"left","baseline":"alphabetic","fontSize":33,"fontStyle":"italic","dx":10,"text":"R′"},
"encoding":{"x":{"field":"p","type":"quantitative","scale":{"type":"log","domain":[1,10000],"nice":false},"axis":null},"y":{"field":"v","type":"quantitative","scale":{"domain":[0,16],"nice":false},"axis":null}}},
{"data":{"name":"lab3"},"mark":{"type":"text","align":"left","baseline":"alphabetic","fontSize":25,"fontStyle":"italic","dx":36,"dy":12,"text":"H K"},
"encoding":{"x":{"field":"p","type":"quantitative","scale":{"type":"log","domain":[1,10000],"nice":false},"axis":null},"y":{"field":"v","type":"quantitative","scale":{"domain":[0,16],"nice":false},"axis":null}}}
],
"resolve":{"axis":{"x":"independent","y":"independent"}}
}
]
}
